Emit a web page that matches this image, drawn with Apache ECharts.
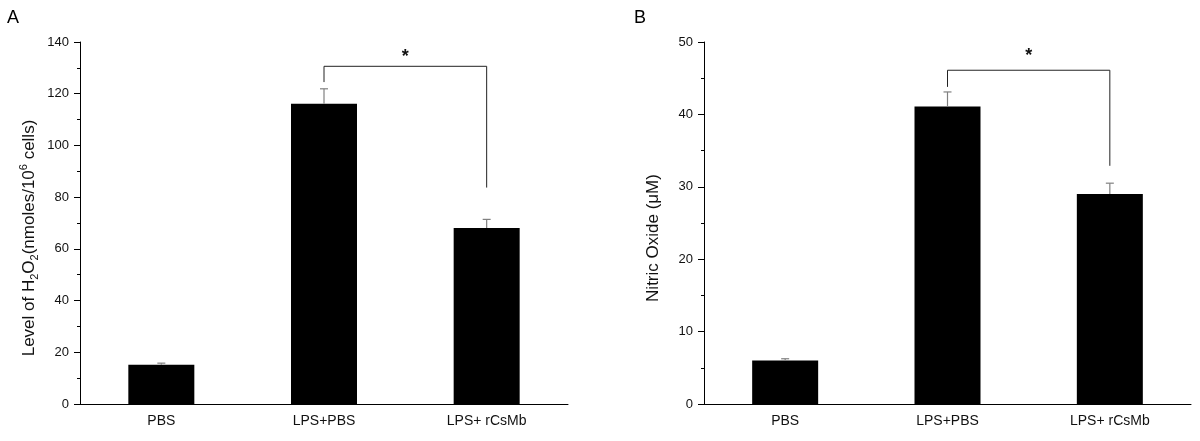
<!DOCTYPE html>
<html>
<head>
<meta charset="utf-8">
<title>H2O2 and NO levels</title>
<script src="https://cdn.jsdelivr.net/npm/echarts@6/dist/echarts.min.js"></script>
<style>
  html, body { margin: 0; padding: 0; background: #fff; }
  #chart { width: 1200px; height: 441px; }
</style>
</head>
<body>
<div id="chart"></div>
<script>
// groups on the x axis
const groups = ['PBS', 'LPS+PBS', 'LPS+ rCsMb']

// panel A: H2O2 level
const h2o2Values = [15.2, 116.1, 68.1]
const h2o2Errors = [0.6, 5.8, 3.3]
const h2o2Ticks = [0, 20, 40, 60, 80, 100, 120, 140]
// bracket between LPS+PBS and LPS+ rCsMb: [from, to, top, left leg end, right leg end, star]
const h2o2Bracket = [1, 2, 130.6, 124.5, 83.7, 135.8]

// panel B: nitric oxide
const noValues = [6.0, 41.1, 29.0]
const noErrors = [0.25, 2.0, 1.5]
const noTicks = [0, 10, 20, 30, 40, 50]
const noBracket = [1, 2, 46.1, 43.8, 32.9, 48.6]

const FONT = 'Arial, "Liberation Sans", sans-serif'

const chart = echarts.init(document.getElementById('chart'))

// error bar (upper only) with small cap
function errorBar(params, api) {
  const x = api.value(0)
  const top = api.coord([x, api.value(1) + api.value(2)])
  const base = api.coord([x, api.value(1)])
  const style = { stroke: '#808080', lineWidth: 1.2 }
  return {
    type: 'group',
    children: [
      { type: 'line', shape: { x1: base[0], y1: base[1], x2: top[0], y2: top[1] }, style },
      { type: 'line', shape: { x1: top[0] - 4, y1: top[1], x2: top[0] + 4, y2: top[1] }, style }
    ]
  }
}

// significance bracket with star
function bracket(params, api) {
  const a = api.value(0)
  const b = api.value(1)
  const tl = api.coord([a, api.value(2)])
  const tr = api.coord([b, api.value(2)])
  const bl = api.coord([a, api.value(3)])
  const br = api.coord([b, api.value(4)])
  const sy = api.coord([a, api.value(5)])[1]
  const style = { stroke: '#222', lineWidth: 1 }
  return {
    type: 'group',
    children: [
      { type: 'polyline', shape: { points: [bl, tl, tr, br] }, style: { ...style, fill: null } },
      {
        type: 'text',
        style: {
          text: '*', x: (tl[0] + tr[0]) / 2, y: sy + 4, align: 'center', verticalAlign: 'middle',
          fontSize: 18, fontWeight: 'bold', fontFamily: FONT, fill: '#111'
        }
      }
    ]
  }
}

function labelAxis(gridIndex) {
  return {
    type: 'category',
    gridIndex: gridIndex,
    data: groups,
    axisLine: { lineStyle: { color: '#000', width: 1 } },
    axisTick: { alignWithLabel: true, length: 7, lineStyle: { color: '#000' } },
    axisLabel: { color: '#111', fontSize: 14, fontFamily: FONT, margin: 10 }
  }
}

// second category axis only for the short boundary ticks
function boundaryAxis(gridIndex) {
  return {
    type: 'category',
    gridIndex: gridIndex,
    position: 'bottom',
    data: groups,
    axisLine: { show: false },
    axisTick: { length: 4, lineStyle: { color: '#000' } },
    axisLabel: { show: false }
  }
}

function valueAxis(gridIndex, ticks, name, nameGap) {
  return {
    type: 'value',
    gridIndex: gridIndex,
    min: ticks[0],
    max: ticks[ticks.length - 1],
    interval: ticks[1] - ticks[0],
    name: name,
    nameLocation: 'middle',
    nameGap: nameGap,
    nameTextStyle: {
      color: '#111', fontSize: 17, fontFamily: FONT,
      padding: [0, 30, 0, 0], // title sits a bit below the axis middle
      rich: {
        t: { fontSize: 17, fontFamily: FONT, color: '#111', lineHeight: 22, verticalAlign: 'middle' },
        s: { fontSize: 11, fontFamily: FONT, color: '#111', verticalAlign: 'bottom' },
        p: { fontSize: 11, fontFamily: FONT, color: '#111', verticalAlign: 'top' }
      }
    },
    splitLine: { show: false },
    axisLine: { show: true, lineStyle: { color: '#000', width: 1 } },
    axisTick: { show: true, length: 6, lineStyle: { color: '#000' } },
    minorTick: { show: true, splitNumber: 2, length: 3, lineStyle: { color: '#000' } },
    axisLabel: { color: '#111', fontSize: 13, fontFamily: FONT, margin: 11 }
  }
}

const option = {
  animation: false,
  backgroundColor: '#fff',
  textStyle: { fontFamily: FONT },
  graphic: [
    { type: 'text', left: 7, top: 9, style: { text: 'A', fontSize: 18, fontFamily: FONT, fill: '#000' } },
    { type: 'text', left: 634, top: 9, style: { text: 'B', fontSize: 18, fontFamily: FONT, fill: '#000' } }
  ],
  grid: [
    { left: 80, top: 42, width: 488, height: 362 },
    { left: 704, top: 42, width: 487, height: 362 }
  ],
  xAxis: [labelAxis(0), boundaryAxis(0), labelAxis(1), boundaryAxis(1)],
  yAxis: [
    valueAxis(0, h2o2Ticks, '{t|Level of H}{s|2}{t|O}{s|2}{t|(nmoles/10}{p|6}{t| cells)}', 40),
    valueAxis(1, noTicks, 'Nitric Oxide (μM)', 42)
  ],
  series: [
    {
      type: 'bar', xAxisIndex: 0, yAxisIndex: 0, data: h2o2Values, barWidth: 66,
      itemStyle: { color: '#000' }
    },
    {
      type: 'bar', xAxisIndex: 2, yAxisIndex: 1, data: noValues, barWidth: 66,
      itemStyle: { color: '#000' }
    },
    {
      type: 'custom', xAxisIndex: 0, yAxisIndex: 0, renderItem: errorBar, z: 5,
      data: h2o2Values.map((v, i) => [i, v, h2o2Errors[i]])
    },
    {
      type: 'custom', xAxisIndex: 2, yAxisIndex: 1, renderItem: errorBar, z: 5,
      data: noValues.map((v, i) => [i, v, noErrors[i]])
    },
    {
      type: 'custom', xAxisIndex: 0, yAxisIndex: 0, renderItem: bracket, clip: false,
      data: [h2o2Bracket]
    },
    {
      type: 'custom', xAxisIndex: 2, yAxisIndex: 1, renderItem: bracket, clip: false,
      data: [noBracket]
    }
  ]
}

chart.setOption(option)
</script>
</body>
</html>
